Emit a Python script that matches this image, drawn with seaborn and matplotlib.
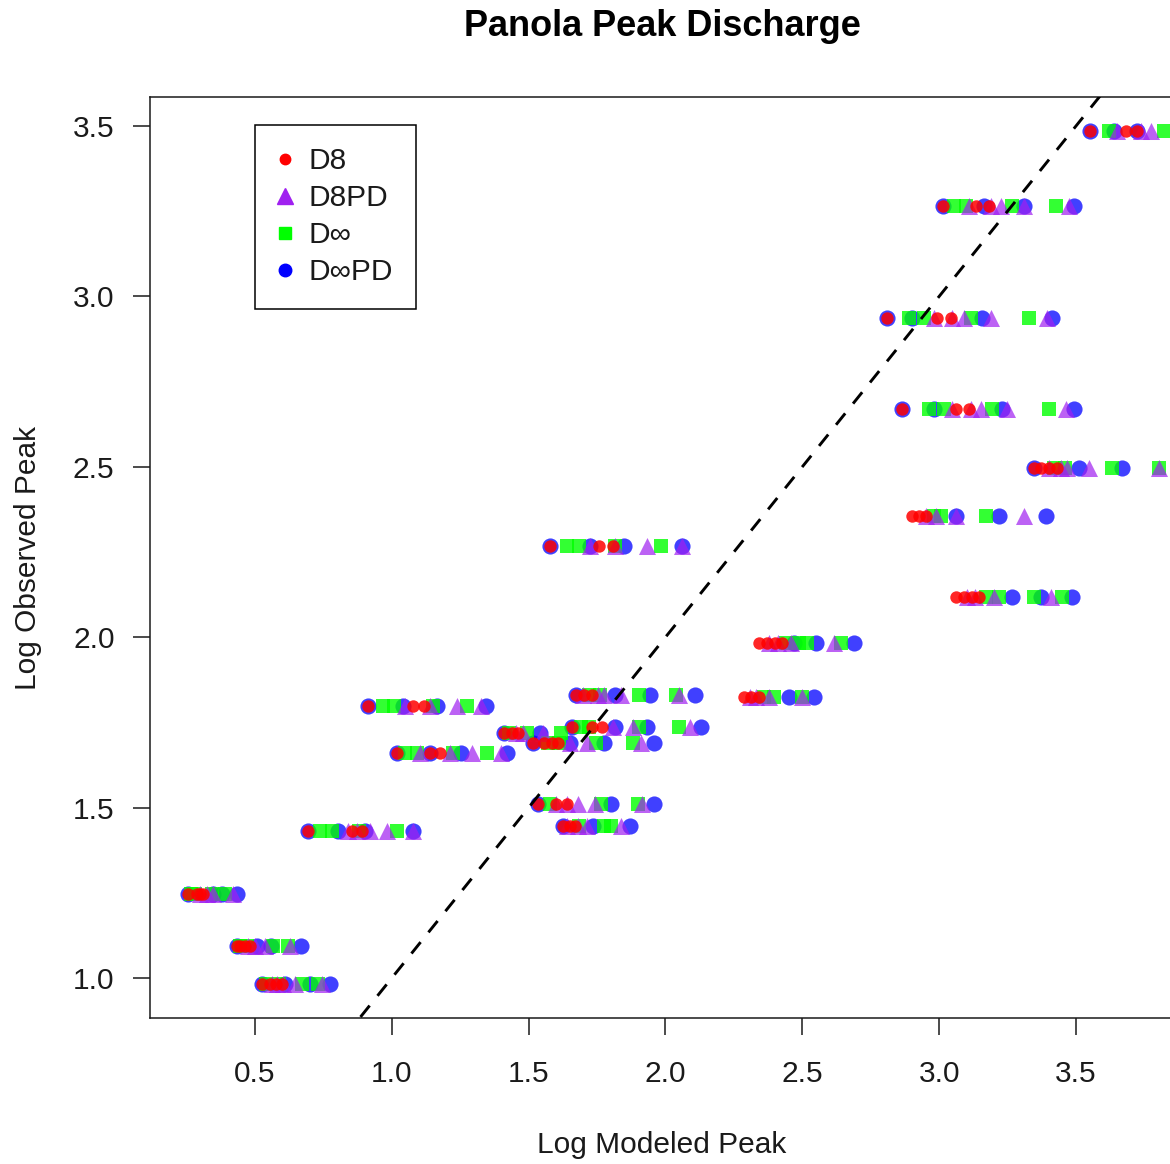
import matplotlib
matplotlib.use("Agg")
import matplotlib.pyplot as plt
from matplotlib.lines import Line2D
import numpy as np
import pandas as pd
import seaborn as sns

# Observed peak (log) for each storm event
observed = [0.983, 1.095, 1.248, 1.433, 1.660, 1.798, 1.720, 1.736, 1.690,
            1.830, 1.510, 1.445, 2.268, 1.982, 1.826, 2.117, 2.356, 2.497,
            2.670, 2.937, 3.265, 3.485]

# Modeled peaks (log) per event, one list per flow-routing method
d8 = [
    [0.526, 0.555, 0.577, 0.599],
    [0.434, 0.445, 0.464, 0.482],
    [0.255, 0.288, 0.300, 0.310],
    [0.693, 0.854, 0.891],
    [1.018, 1.139, 1.175],
    [0.912, 1.077, 1.117],
    [1.412, 1.438, 1.460],
    [1.657, 1.730, 1.770],
    [1.515, 1.558, 1.584, 1.606],
    [1.675, 1.704, 1.730],
    [1.533, 1.602, 1.639],
    [1.624, 1.650, 1.668],
    [1.577, 1.759, 1.807],
    [2.343, 2.372, 2.401, 2.427],
    [2.288, 2.314, 2.343],
    [3.062, 3.091, 3.120, 3.146],
    [2.901, 2.927, 2.953],
    [3.347, 3.372, 3.401, 3.431],
    [2.865, 3.062, 3.109],
    [2.810, 2.993, 3.044],
    [3.015, 3.135, 3.182],
    [3.551, 3.682, 3.723],
]
d8pd = [
    [0.562, 0.580, 0.602, 0.646, 0.745],
    [0.475, 0.500, 0.536, 0.628],
    [0.300, 0.325, 0.347, 0.420],
    [0.839, 0.872, 0.920, 0.982, 1.077],
    [1.102, 1.212, 1.292, 1.401],
    [1.047, 1.139, 1.237, 1.328],
    [1.455, 1.480, 1.551],
    [1.807, 1.880, 2.088],
    [1.650, 1.712, 1.912],
    [1.700, 1.752, 1.777, 1.839, 2.051],
    [1.602, 1.639, 1.679, 1.741, 1.916],
    [1.640, 1.680, 1.715, 1.839],
    [1.723, 1.814, 1.931, 2.062],
    [2.380, 2.410, 2.460, 2.617],
    [2.310, 2.330, 2.380, 2.500],
    [3.100, 3.130, 3.201, 3.409],
    [2.953, 2.989, 3.062, 3.310],
    [3.400, 3.445, 3.467, 3.547, 3.803],
    [3.047, 3.117, 3.153, 3.248, 3.464],
    [2.982, 3.047, 3.091, 3.190, 3.394],
    [3.110, 3.190, 3.226, 3.310, 3.474],
    [3.650, 3.737, 3.774],
]
dinf = [
    [0.540, 0.590, 0.672, 0.730],
    [0.445, 0.470, 0.566, 0.620],
    [0.265, 0.280, 0.345, 0.390],
    [0.737, 0.781, 0.880, 1.018],
    [1.047, 1.091, 1.223, 1.347],
    [0.967, 1.007, 1.150, 1.274],
    [1.430, 1.493, 1.620],
    [1.690, 1.720, 1.905, 2.051],
    [1.570, 1.613, 1.748, 1.880],
    [1.720, 1.760, 1.905, 2.040],
    [1.577, 1.766, 1.898],
    [1.686, 1.777, 1.803],
    [1.639, 1.686, 1.814, 1.985],
    [2.440, 2.489, 2.518, 2.642],
    [2.360, 2.398, 2.500],
    [3.170, 3.219, 3.347, 3.449],
    [2.980, 3.007, 3.172],
    [3.420, 3.460, 3.631, 3.803],
    [2.964, 3.018, 3.193, 3.401],
    [2.891, 2.945, 3.117, 3.328],
    [3.055, 3.099, 3.266, 3.427],
    [3.620, 3.821],
]
dinfpd = [
    [0.526, 0.609, 0.700, 0.774],
    [0.434, 0.507, 0.560, 0.668],
    [0.255, 0.347, 0.380, 0.434],
    [0.693, 0.803, 0.901, 1.077],
    [1.018, 1.139, 1.255, 1.423],
    [0.912, 1.040, 1.164, 1.343],
    [1.412, 1.540],
    [1.657, 1.814, 1.934, 2.131],
    [1.515, 1.650, 1.777, 1.960],
    [1.675, 1.814, 1.942, 2.109],
    [1.533, 1.803, 1.960],
    [1.624, 1.734, 1.869],
    [1.577, 1.723, 1.850, 2.062],
    [2.470, 2.551, 2.690],
    [2.453, 2.544],
    [3.266, 3.372, 3.485],
    [3.062, 3.219, 3.391],
    [3.347, 3.511, 3.668],
    [2.865, 2.982, 3.230, 3.493],
    [2.810, 2.901, 3.157, 3.412],
    [3.015, 3.164, 3.310, 3.493],
    [3.551, 3.639, 3.723],
]

methods = ["D8", "D8PD", "D\u221e", "D\u221ePD"]
x_ticks = [0.5, 1.0, 1.5, 2.0, 2.5, 3.0, 3.5]
y_ticks = [1.0, 1.5, 2.0, 2.5, 3.0, 3.5]

colors = {"D8": "#FF0000", "D8PD": "#A020F0", "D\u221e": "#00FF00", "D\u221ePD": "#0000FF"}
markers = {"D8": "o", "D8PD": "^", "D\u221e": "s", "D\u221ePD": "o"}
sizes = {"D8": 80, "D8PD": 150, "D\u221e": 115, "D\u221ePD": 135}
alphas = {"D8": 0.85, "D8PD": 0.7, "D\u221e": 0.8, "D\u221ePD": 0.75}

rows = []
for name, series in zip(methods, [d8, d8pd, dinf, dinfpd]):
    for obs, modeled in zip(observed, series):
        for m in modeled:
            rows.append({"method": name, "modeled": m, "observed": obs})
df = pd.DataFrame(rows)

sns.set_theme(style="ticks")
plt.rcParams["font.family"] = ["Liberation Sans", "DejaVu Sans"]

FS = 21.5
INK = "#1a1a1a"

fig = plt.figure(figsize=(11.70, 11.64), dpi=100)
W, H = 1170, 1164
left, right, top, bottom = 150, 1174, 97, 1018
ax = fig.add_axes([left / W, 1 - bottom / H, (right - left) / W, (bottom - top) / H])

# Drawing order: D-inf PD underneath, D8 on top
for name in ["D\u221ePD", "D\u221e", "D8PD", "D8"]:
    sub = df[df["method"] == name]
    sns.scatterplot(data=sub, x="modeled", y="observed", ax=ax,
                    color=colors[name], marker=markers[name], s=sizes[name],
                    alpha=alphas[name], linewidth=0, legend=False, zorder=3)

# 1:1 line
ax.plot([0.0, 4.0], [0.0, 4.0], color="black", lw=2.1, linestyle=(0, (5, 4.3)), zorder=4)

ax.set_xticks(x_ticks)
ax.set_yticks(y_ticks)
ax.set_xticklabels([f"{t:.1f}" for t in x_ticks])
ax.set_yticklabels([f"{t:.1f}" for t in y_ticks])
ax.set_xlim(0.117, 3.858)
ax.set_ylim(0.883, 3.585)

ax.tick_params(axis="both", direction="out", length=12.5, width=1.1, colors=INK,
               labelsize=FS, labelcolor=INK)
ax.tick_params(axis="x", pad=18)
ax.tick_params(axis="y", pad=13)
for sp in ax.spines.values():
    sp.set_visible(True)
    sp.set_color(INK)
    sp.set_linewidth(1.1)

ax.set_xlabel("Log Modeled Peak", fontsize=FS, color=INK, va="center")
ax.set_ylabel("Log Observed Peak", fontsize=FS, color=INK, va="center")
ax.xaxis.set_label_coords((662 - left) / (right - left), -(1145 - bottom) / (bottom - top))
ax.yaxis.set_label_coords(-(left - 28) / (right - left), 0.5)
ax.set_title("Panola Peak Discharge", fontsize=26, fontweight="bold", color="black",
             y=1 + (top - 26) / (bottom - top), va="center", pad=0)

handles = [
    Line2D([], [], linestyle="", marker="o", color="#FF0000", markersize=7.5),
    Line2D([], [], linestyle="", marker="^", color="#A020F0", markersize=11),
    Line2D([], [], linestyle="", marker="s", color="#00FF00", markersize=9),
    Line2D([], [], linestyle="", marker="o", color="#0000FF", markersize=9),
]
leg = ax.legend(handles, methods, loc="upper left",
                bbox_to_anchor=((255 - left) / (right - left), 1 - (125 - top) / (bottom - top)),
                borderaxespad=0, frameon=True, fancybox=False, framealpha=1,
                edgecolor="black", fontsize=FS, handlelength=0.5, handletextpad=0.55,
                labelspacing=0.3, borderpad=0.75)
leg.get_frame().set_linewidth(1.1)
for t in leg.get_texts():
    t.set_color(INK)

fig.savefig("out.png", dpi=100)
